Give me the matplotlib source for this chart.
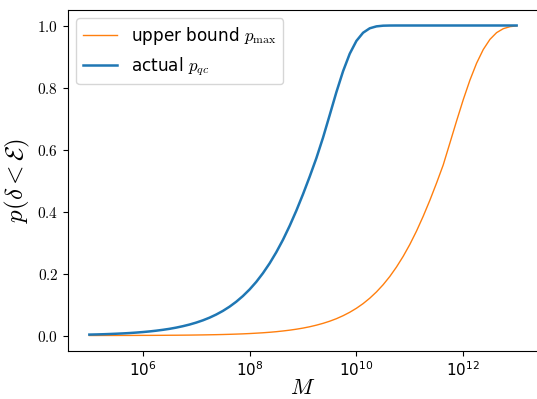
import numpy as np
import matplotlib
matplotlib.use("Agg")
import matplotlib.pyplot as plt
from matplotlib.ticker import LogFormatterMathtext, FuncFormatter, NullLocator

plt.rcParams['mathtext.fontset'] = 'cm'
plt.rcParams['font.family'] = 'DejaVu Sans'

# sample grid in log10(M), 1e5 .. 1e13
log_m = np.linspace(5, 13, 65)

# actual probability p_qc
p_qc = [
    0.0030, 0.0035, 0.0041, 0.0049, 0.0058, 0.0068, 0.0080, 0.0095,
    0.0112, 0.0132, 0.0156, 0.0184, 0.0216, 0.0255, 0.0301, 0.0354,
    0.0417, 0.0490, 0.0576, 0.0677, 0.0794, 0.0931, 0.1090, 0.1274,
    0.1486, 0.1730, 0.2011, 0.2328, 0.2687, 0.3088, 0.3537, 0.4027,
    0.4558, 0.5124, 0.5720, 0.6384, 0.7112, 0.7850, 0.8525, 0.9089,
    0.9503, 0.9767, 0.9910, 0.9972, 0.9994, 0.9999, 1.0000, 1.0000,
    1.0000, 1.0000, 1.0000, 1.0000, 1.0000, 1.0000, 1.0000, 1.0000,
    1.0000, 1.0000, 1.0000, 1.0000, 1.0000, 1.0000, 1.0000, 1.0000,
    1.0000,
]

# upper bound p_max
p_max = [
    0.0001, 0.0001, 0.0002, 0.0002, 0.0002, 0.0003, 0.0003, 0.0004,
    0.0005, 0.0005, 0.0006, 0.0007, 0.0009, 0.0010, 0.0012, 0.0014,
    0.0017, 0.0020, 0.0024, 0.0028, 0.0033, 0.0039, 0.0046, 0.0054,
    0.0064, 0.0076, 0.0089, 0.0105, 0.0124, 0.0147, 0.0173, 0.0204,
    0.0240, 0.0283, 0.0334, 0.0393, 0.0462, 0.0543, 0.0639, 0.0750,
    0.0879, 0.1029, 0.1204, 0.1406, 0.1638, 0.1904, 0.2209, 0.2552,
    0.2937, 0.3368, 0.3845, 0.4361, 0.4916, 0.5500, 0.6207, 0.6918,
    0.7605, 0.8236, 0.8783, 0.9225, 0.9552, 0.9770, 0.9897, 0.9962,
    0.9988,
]

M = 10.0 ** log_m

fig = plt.figure(figsize=(5.37, 3.99), dpi=100)
ax = fig.add_axes([68 / 537, 48 / 399, 470 / 537, 341 / 399])

ax.plot(M, p_max, color='#ff7f0e', lw=1.0, label=r'upper bound $p_{\max}$')
ax.plot(M, p_qc, color='#1f77b4', lw=1.8, label=r'actual $p_{qc}$')

ax.set_xscale('log')
ax.set_xticks([1e6, 1e8, 1e10, 1e12])
ax.xaxis.set_minor_locator(NullLocator())
ax.xaxis.set_major_formatter(LogFormatterMathtext())
ax.yaxis.set_major_formatter(FuncFormatter(lambda v, pos: r'$%.1f$' % v))
ax.tick_params(labelsize=11)

ax.set_xlabel(r'$M$', fontsize=16, labelpad=-1)
ax.set_ylabel(r'$p(\delta < \mathcal{E})$', fontsize=18, labelpad=4)
ax.legend(loc='upper left', fontsize=12.2, labelspacing=0.45)

fig.savefig('out.png', dpi=100)
